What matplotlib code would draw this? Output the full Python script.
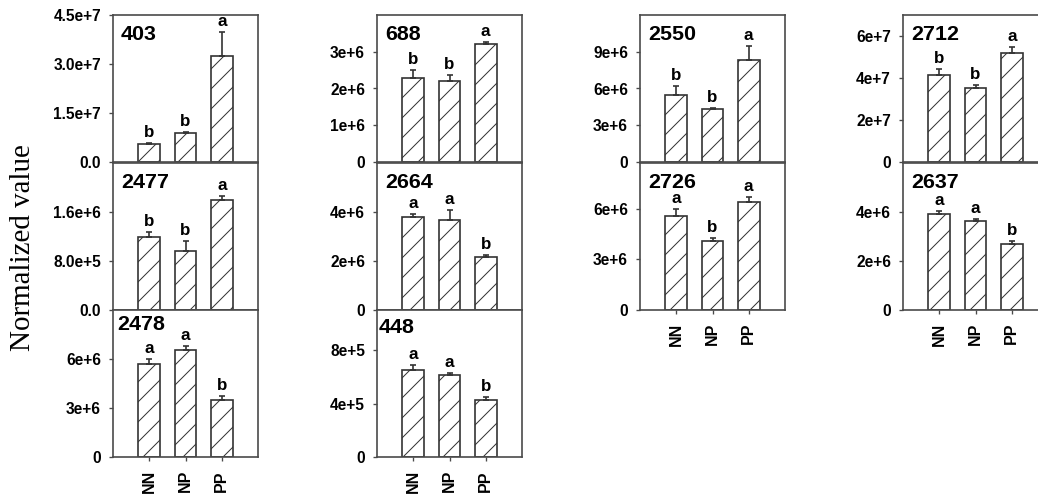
import matplotlib
matplotlib.use("Agg")
import matplotlib.pyplot as plt

# 데이터
groups = ['NN', 'NP', 'PP']

names = ['403', '2477', '2478', '688', '2664', '448', '2550', '2726', '2712', '2637']
means = [
    [5.5e6, 8.9e6, 3.24e7],
    [1.20e6, 9.7e5, 1.79e6],
    [5.71e6, 6.55e6, 3.49e6],
    [2.29e6, 2.20e6, 3.22e6],
    [3.80e6, 3.67e6, 2.16e6],
    [6.53e5, 6.13e5, 4.25e5],
    [5.43e6, 4.30e6, 8.35e6],
    [5.59e6, 4.08e6, 6.41e6],
    [4.15e7, 3.53e7, 5.19e7],
    [3.92e6, 3.63e6, 2.69e6],
]
errs = [
    [3e5, 2e5, 7.3e6],
    [7e4, 1.5e5, 7e4],
    [3e5, 2.5e5, 2.5e5],
    [2e5, 1.8e5, 4e4],
    [1.2e5, 4e5, 1e5],
    [3.7e4, 1.3e4, 2.5e4],
    [8e5, 1e5, 1.15e6],
    [4e5, 1.7e5, 2.5e5],
    [3e6, 1.4e6, 2.8e6],
    [1.3e5, 1e5, 1.1e5],
]
letters = [
    ['b', 'b', 'a'], ['b', 'b', 'a'], ['a', 'a', 'b'],
    ['b', 'b', 'a'], ['a', 'a', 'b'], ['a', 'a', 'b'],
    ['b', 'b', 'a'], ['a', 'b', 'a'],
    ['b', 'b', 'a'], ['a', 'a', 'b'],
]
ymax = [4.5e7, 2.4e6, 9e6, 4e6, 6e6, 1.1e6, 1.2e7, 8.7e6, 7e7, 6e6]
yticks = [
    [0, 1.5e7, 3.0e7, 4.5e7], [0, 8e5, 1.6e6], [0, 3e6, 6e6],
    [0, 1e6, 2e6, 3e6], [0, 2e6, 4e6], [0, 4e5, 8e5],
    [0, 3e6, 6e6, 9e6], [0, 3e6, 6e6],
    [0, 2e7, 4e7, 6e7], [0, 2e6, 4e6],
]
yticklabels = [
    ['0.0', '1.5e+7', '3.0e+7', '4.5e+7'], ['0.0', '8.0e+5', '1.6e+6'], ['0', '3e+6', '6e+6'],
    ['0', '1e+6', '2e+6', '3e+6'], ['0', '2e+6', '4e+6'], ['0', '4e+5', '8e+5'],
    ['0', '3e+6', '6e+6', '9e+6'], ['0', '3e+6', '6e+6'],
    ['0', '2e+7', '4e+7', '6e+7'], ['0', '2e+6', '4e+6'],
]
# 각 열에 들어가는 패널 개수
col_sizes = [3, 3, 2, 2]

DPI = 120
W, H = 1038, 500
def pt(px):
    return px * 72.0 / DPI

plt.rcParams['font.family'] = ['Liberation Sans', 'DejaVu Sans']
plt.rcParams['font.weight'] = 'bold'
plt.rcParams['hatch.linewidth'] = 0.6
plt.rcParams['hatch.color'] = '#333333'

fig = plt.figure(figsize=(W / DPI, H / DPI), dpi=DPI)

col_left = [113, 377, 640, 903]
ax_w = 145
row_top = [15, 163, 310]
ax_h = 147
spine_c = '#4a4a4a'

# 제목 위치 (픽셀 오프셋)
title_off = {'2478': (4, 5), '448': (2, 8)}

k = 0
for c, n in enumerate(col_sizes):
    for r in range(n):
        left = col_left[c] / W
        bottom = 1 - (row_top[r] + ax_h) / H
        ax = fig.add_axes([left, bottom, ax_w / W, ax_h / H])
        x = range(len(groups))
        ax.bar(x, means[k], width=0.6, color='white', edgecolor='#333333',
               linewidth=1.0, hatch='//', zorder=2)
        ax.errorbar(x, means[k], yerr=[[0] * 3, errs[k]], fmt='none',
                    ecolor='#333333', elinewidth=1.0, capsize=pt(3), capthick=1.0, zorder=3)
        for i in x:
            ax.annotate(letters[k][i], (i, means[k][i] + errs[k][i]),
                        xytext=(0, pt(3)), textcoords='offset points',
                        ha='center', va='bottom', fontsize=pt(17), fontweight='bold')
        ox, oy = title_off.get(names[k], (8, 10))
        ax.text(ox / ax_w, 1 - oy / ax_h, names[k], transform=ax.transAxes,
                ha='left', va='top', fontsize=pt(21.5), fontweight='bold')
        ax.set_xlim(-1, 3)
        ax.set_ylim(0, ymax[k])
        ax.set_yticks(yticks[k])
        ax.set_yticklabels(yticklabels[k], fontsize=pt(15.5), fontweight='bold')
        ax.set_xticks(list(x))
        if r == n - 1:
            ax.set_xticklabels(groups, rotation=90, fontsize=pt(16), fontweight='bold')
        else:
            ax.set_xticklabels([])
        ax.tick_params(axis='both', direction='out', length=pt(4), width=0.8,
                       color=spine_c)
        ax.tick_params(axis='y', pad=pt(8))
        ax.tick_params(axis='x', pad=pt(9))
        for s in ax.spines.values():
            s.set_color(spine_c)
            s.set_linewidth(1.0)
        k += 1

fig.text(23 / W, 1 - 248 / H, 'Normalized value', rotation=90, ha='center', va='center',
         fontsize=pt(29), fontweight='normal', family=['Liberation Serif', 'DejaVu Serif'])

fig.savefig('out.png', dpi=DPI)
